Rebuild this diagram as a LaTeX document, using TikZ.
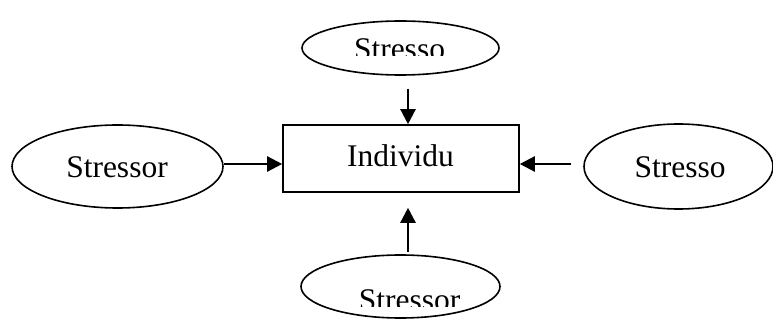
\documentclass[tikz,border=0pt]{standalone}
\usepackage{fontspec}
\setmainfont{Liberation Serif}
\usetikzlibrary{shapes.geometric,arrows.meta}
\begin{document}
\begin{tikzpicture}[x=1pt,y=-1pt,
  oval/.style={draw,ellipse,line width=1.6pt,inner sep=0pt},
  box/.style={draw,rectangle,line width=1.6pt,inner sep=0pt,minimum width=236pt,minimum height=67pt},
  lbl/.style={anchor=base,inner sep=0pt,font=\fontsize{31.5}{36}\selectfont},
  arr/.style={line width=2.4pt,-{Triangle[length=15pt,width=15pt]}}]
\useasboundingbox (0,0) rectangle (773,320);
\node[box] (R) at (401,158.5) {};
\node[oval,minimum width=211pt,minimum height=83pt] (L) at (117.5,166.5) {};
\node[oval,minimum width=189pt,minimum height=85pt] (E) at (678.5,166.5) {};
\node[oval,minimum width=197pt,minimum height=54pt] (T) at (400.5,48) {};
\node[oval,minimum width=199pt,minimum height=63pt] (B) at (400.5,286.5) {};
\draw[arr] ([yshift=2.5pt]L.east) -- ([yshift=2.5pt]L.east -| R.west);
\draw[arr,shorten <=12pt] ([yshift=2.5pt]E.west) -- ([yshift=2.5pt]E.west -| R.east);
\draw[arr,shorten <=13pt] ([xshift=7.5pt]T.south) -- ([xshift=7.5pt]T.south |- R.north);
\draw[arr,shorten <=2pt,shorten >=15pt] ([xshift=7.5pt]B.north) -- ([xshift=7.5pt]B.north |- R.south);
\node[lbl] (tL) at (117,178) {Stressor};
\node[lbl] (tE) at (680,178) {Stresso};
\node[lbl] (tR) at (400.5,167) {Individu};
\begin{scope}
\clip (300,0) rectangle (500,56);
\node[lbl] (tT) at (399.5,60) {Stresso};
\end{scope}
\begin{scope}
\clip (300,270) rectangle (500,306);
\node[lbl] (tB) at (409.5,310) {Stressor};
\end{scope}
\end{tikzpicture}
\end{document}
